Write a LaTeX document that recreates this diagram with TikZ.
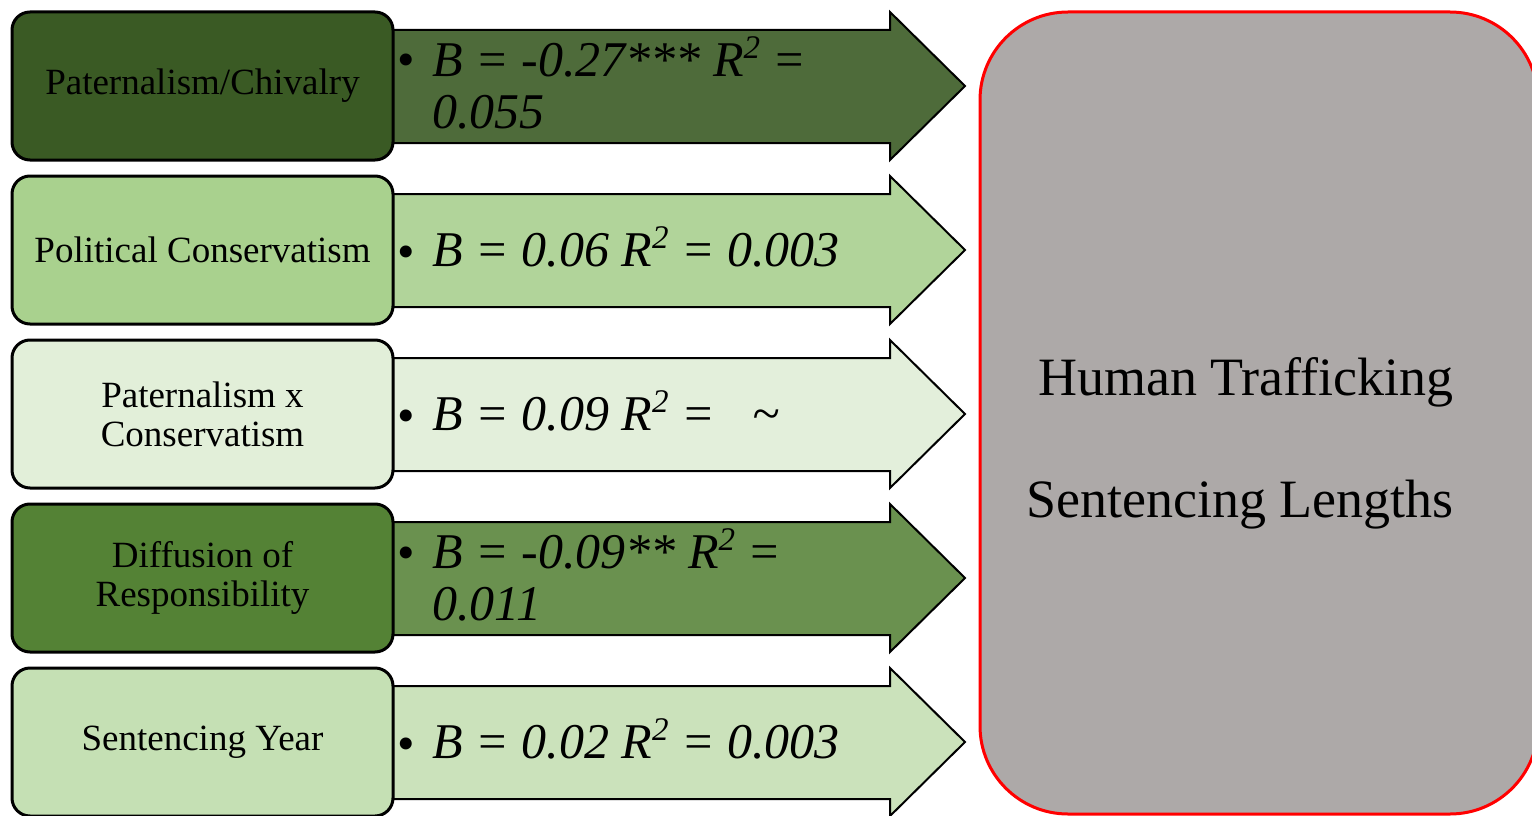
\documentclass[tikz,border=0pt]{standalone}
\usepackage{fontspec}
\setmainfont{Liberation Serif}
\definecolor{boxA}{HTML}{3A5A24}
\definecolor{arrA}{HTML}{4E6B3A}
\definecolor{boxB}{HTML}{A9D18E}
\definecolor{arrB}{HTML}{B1D49A}
\definecolor{boxC}{HTML}{E2EFD9}
\definecolor{arrC}{HTML}{E3EFDB}
\definecolor{boxD}{HTML}{548235}
\definecolor{arrD}{HTML}{6A914F}
\definecolor{boxE}{HTML}{C5E0B4}
\definecolor{arrE}{HTML}{CBE2BB}
\definecolor{outfill}{HTML}{ADA9A8}
\newcommand{\blockarrow}[2]{%
  \draw[arrstyle, fill=#2] (380,#1-56) -- (890,#1-56) -- (890,#1-74) -- (965,#1)
    -- (890,#1+74) -- (890,#1+57) -- (380,#1+57) -- cycle;}
\newcommand{\sqtwo}{\smash{\raisebox{0.36em}{\fontsize{33}{33}\selectfont 2}}}
\tikzset{
  lbox/.style={draw=black, line width=3pt, rounded corners=18pt, minimum width=381pt,
    minimum height=148pt, align=center, inner sep=0pt, text=black,
    font=\fontsize{37}{39}\selectfont},
  arrstyle/.style={draw=black, line width=2pt, line join=miter},
  atext/.style={anchor=west, align=left, inner sep=0pt,
    font=\fontsize{50}{52}\selectfont\itshape},
  bul/.style={anchor=base, inner sep=0pt, font=\fontsize{50}{52}\selectfont},
  outtext/.style={anchor=base, inner sep=0pt, font=\fontsize{54}{60}\selectfont}
}
\begin{document}
\begin{tikzpicture}[x=1pt,y=-1pt]
\useasboundingbox (0,0) rectangle (1532,816);
\clip (0,0) rectangle (1532,816);
% block arrows
\blockarrow{86}{arrA}
\blockarrow{250}{arrB}
\blockarrow{414}{arrC}
\blockarrow{578}{arrD}
\blockarrow{742}{arrE}
% left boxes
\node[lbox, fill=boxA] (b1) at (202.5,86) {Paternalism/Chivalry};
\node[lbox, fill=boxB] (b2) at (202.5,250) {Political Conservatism};
\node[lbox, fill=boxC] (b3) at (202.5,414) {Paternalism x\\Conservatism};
\node[lbox, fill=boxD] (b4) at (202.5,578) {Diffusion of\\Responsibility};
\node[lbox, fill=boxE] (b5) at (202.5,742) {Sentencing Year};
% arrow texts
\node[bul] (u1) at (406,77) {\textbullet};
\node[atext] (t1) at (432,86) {B = -0.27*** R\sqtwo{} =\\0.055};
\node[bul] (u2) at (406,268) {\textbullet};
\node[atext] (t2) at (432,250) {B = 0.06 R\sqtwo{} = 0.003};
\node[bul] (u3) at (406,432) {\textbullet};
\node[atext] (t3) at (432,414) {B = 0.09 R\sqtwo{} =\ \ \ \textasciitilde};
\node[bul] (u4) at (406,569) {\textbullet};
\node[atext] (t4) at (432,578) {B = -0.09** R\sqtwo{} =\\0.011};
\node[bul] (u5) at (406,760) {\textbullet};
\node[atext] (t5) at (432,742) {B = 0.02 R\sqtwo{} = 0.003};
% outcome box
\node[draw=red, line width=3pt, fill=outfill, rounded corners=88pt,
  minimum width=558pt, minimum height=802pt, inner sep=0pt] (out) at (1259,413) {};
\node[outtext] (o1) at (1246,395) {Human Trafficking};
\node[outtext] (o2) at (1240,517) {Sentencing Lengths};
\end{tikzpicture}
\end{document}
